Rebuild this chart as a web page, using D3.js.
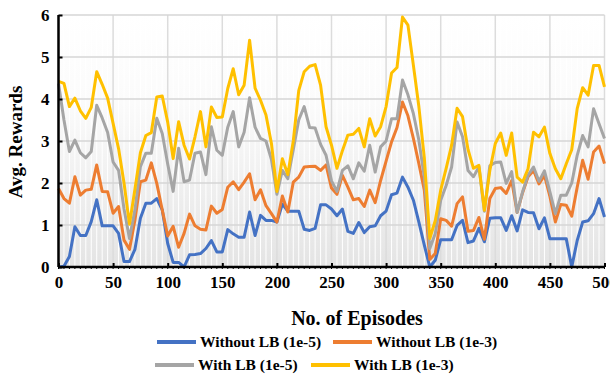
<!DOCTYPE html>
<html><head><meta charset="utf-8">
<script src="https://cdn.jsdelivr.net/npm/d3@7"></script>
<style>body{margin:0;background:#fff}svg{display:block}text{font-family:"Liberation Serif","Times New Roman",serif;font-weight:bold;fill:#000}</style>
</head><body><svg id="c" width="610" height="376"></svg>
<script>
const episodes = d3.range(0, 501, 5);
const seriesNames = ["Without LB (1e-5)", "Without LB (1e-3)", "With LB (1e-5)", "With LB (1e-3)"];
const seriesColors = ["#4472C4", "#ED7D31", "#A5A5A5", "#FFC000"];
const withoutLB_1e5 = [0.0,0.02,0.25,0.96,0.75,0.75,1.08,1.6,0.98,0.98,0.98,0.8,0.13,0.13,0.42,1.16,1.52,1.52,1.63,1.36,0.56,0.11,0.11,0.0,0.29,0.3,0.32,0.44,0.63,0.36,0.36,0.89,0.79,0.71,0.71,1.31,0.75,1.23,1.11,1.11,1.07,1.5,1.33,1.33,1.33,0.9,0.87,0.92,1.48,1.48,1.38,1.22,1.38,0.85,0.8,1.06,0.82,0.96,0.98,1.22,1.33,1.72,1.76,2.14,1.9,1.59,1.07,0.52,0.0,0.16,0.65,0.65,0.65,0.99,1.11,0.58,0.62,0.92,0.6,1.16,1.17,1.17,0.87,1.22,0.86,1.36,1.3,1.29,0.91,1.17,0.67,0.67,0.67,0.67,0.0,0.63,1.07,1.1,1.27,1.63,1.19];
const withoutLB_1e3 = [1.87,1.63,1.52,2.15,1.71,1.83,1.85,2.43,1.8,1.79,1.28,1.44,0.64,0.42,1.12,2.03,2.07,2.48,1.99,1.36,0.74,0.97,0.47,0.8,1.26,0.98,0.9,0.88,1.45,1.28,1.37,1.9,2.03,1.84,2.02,2.22,1.6,1.84,1.46,1.27,1.07,1.69,1.31,2.02,2.14,2.38,2.39,2.4,2.3,2.43,1.88,1.73,2.18,1.9,1.6,1.63,1.44,1.83,1.53,2.06,2.52,2.98,3.32,3.93,3.6,3.06,2.46,1.83,0.18,0.32,1.15,1.11,0.97,1.51,1.67,0.85,0.87,1.18,0.66,1.63,1.87,1.89,1.75,2.06,1.3,1.77,2.15,2.3,1.98,2.18,1.68,1.07,1.49,1.47,1.21,1.9,2.54,2.09,2.74,2.88,2.46];
const withLB_1e5 = [4.37,3.5,2.75,3.02,2.72,2.6,2.75,3.85,3.55,3.2,2.5,2.3,1.38,0.68,1.36,2.39,2.71,2.71,3.54,3.18,2.45,1.8,2.83,2.03,2.07,2.71,2.74,2.2,3.34,2.78,2.66,3.33,3.7,2.86,3.21,4.03,3.33,3.06,3.0,2.56,1.73,2.3,2.1,2.79,3.5,3.82,3.32,3.31,2.92,2.66,2.05,1.8,2.3,2.41,2.1,2.48,2.28,2.9,2.26,2.86,3.0,3.53,3.53,4.45,4.1,3.65,3.02,2.14,0.44,0.79,1.59,1.94,2.38,3.45,3.1,2.3,2.15,2.38,1.33,2.41,2.49,2.5,1.99,2.27,1.3,1.79,2.19,2.38,2.04,2.29,1.79,1.27,1.71,1.71,2.0,2.66,3.13,2.86,3.77,3.41,3.06];
const withLB_1e3 = [4.42,4.37,3.82,4.02,3.72,3.54,3.8,4.65,4.35,4.02,3.42,2.82,2.0,1.02,1.85,2.72,3.13,3.2,4.05,4.07,3.45,2.58,3.46,2.9,2.57,3.1,3.7,2.86,3.81,3.56,3.57,4.25,4.72,4.1,4.33,5.4,4.26,3.97,3.62,2.94,1.8,2.58,2.2,3.0,4.2,4.65,4.78,4.82,4.33,3.34,2.9,2.35,2.77,3.14,3.16,3.3,2.86,3.53,3.12,3.34,3.82,4.62,4.75,5.95,5.76,4.8,3.82,2.6,0.68,1.1,1.83,2.35,2.9,3.78,3.58,2.8,2.35,2.42,1.35,2.3,2.94,3.19,2.66,3.19,2.14,2.02,2.34,3.21,3.1,3.33,2.7,2.34,2.1,2.46,2.79,3.77,4.27,4.09,4.8,4.8,4.29];
const allSeries = [withoutLB_1e5, withoutLB_1e3, withLB_1e5, withLB_1e3];
const xTicks = [0,50,100,150,200,250,300,350,400,450,500];
const yTicks = [0,1,2,3,4,5,6];
const xTitle = "No. of Episodes";
const yTitle = "Avg. Rewards";

const svg = d3.select("#c");
const L = 58.5, R = 604.5, T = 15, B = 267;
const x = d3.scaleLinear().domain([0,500]).range([L,R]);
const y = d3.scaleLinear().domain([0,6]).range([B,T]);

const defs = svg.append("defs");
const g = defs.append("linearGradient").attr("id","bg").attr("x1",0).attr("x2",0).attr("y1",0).attr("y2",1);
g.append("stop").attr("offset","0").attr("stop-color","#ffffff");
g.append("stop").attr("offset","0.35").attr("stop-color","#fbfbfb");
g.append("stop").attr("offset","1").attr("stop-color","#e4e4e4");
svg.append("rect").attr("x",L).attr("y",T).attr("width",R-L).attr("height",B-T).attr("fill","url(#bg)");

// minor vertical gridlines
svg.append("g").selectAll("line").data(episodes.filter(d=>d%50!==0)).join("line")
  .attr("x1",d=>x(d)).attr("x2",d=>x(d)).attr("y1",T).attr("y2",B)
  .attr("stroke","#ffffff").attr("stroke-width",1);
// major gridlines
svg.append("g").selectAll("line").data(xTicks).join("line")
  .attr("x1",d=>x(d)).attr("x2",d=>x(d)).attr("y1",T).attr("y2",B)
  .attr("stroke","#dcdcdc").attr("stroke-width",1.5);
svg.append("g").selectAll("line").data(yTicks).join("line")
  .attr("x1",L).attr("x2",R).attr("y1",d=>y(d)).attr("y2",d=>y(d))
  .attr("stroke","#d6d6d6").attr("stroke-width",1.5);

// series lines
const line = d3.line().x((d,i)=>x(episodes[i])).y(d=>y(d));
allSeries.forEach((s,k)=>{
  svg.append("path").datum(s).attr("d",line).attr("fill","none")
    .attr("stroke",seriesColors[k]).attr("stroke-width",3).attr("stroke-linejoin","round");
});

// axes
const xAxis = svg.append("g").attr("transform",`translate(0,${B})`)
  .call(d3.axisBottom(x).tickValues(xTicks).tickSize(-4).tickPadding(9).tickFormat(d3.format("d")));
svg.append("g").selectAll("line").data(episodes).join("line")
  .attr("x1",d=>x(d)).attr("x2",d=>x(d)).attr("y1",B).attr("y2",B+2).attr("stroke","#000").attr("stroke-width",1);
const yAxis = svg.append("g").attr("transform",`translate(${L},0)`)
  .call(d3.axisLeft(y).tickValues(yTicks).tickSize(-4).tickPadding(9).tickFormat(d3.format("d")));
[xAxis,yAxis].forEach(a=>{
  a.select(".domain").attr("stroke","#000").attr("stroke-width",2.5);
  a.selectAll(".tick line").attr("stroke","#000").attr("stroke-width",2);
  a.selectAll(".tick text").style("font-family",'"Liberation Serif",serif').style("font-weight","bold").style("font-size","17px").attr("fill","#000");
});
xAxis.select(".domain").attr("d",`M${L},0H${R}`);
yAxis.select(".domain").attr("d",`M0,${T}V${B}`);

svg.append("text").attr("x",357).attr("y",325).attr("text-anchor","middle").style("font-size","20px").text(xTitle);
svg.append("text").attr("transform","translate(22,142) rotate(-90)").attr("text-anchor","middle").style("font-size","19px").text(yTitle);

// legend
const legendPos = [[157,342],[333,342],[155,365],[311,365]];
seriesNames.forEach((n,k)=>{
  const [lx,ly] = legendPos[k];
  svg.append("line").attr("x1",lx).attr("x2",lx+39).attr("y1",ly).attr("y2",ly).attr("stroke",seriesColors[k]).attr("stroke-width",4);
  svg.append("text").attr("x",lx+43).attr("y",ly+5).style("font-size","15.5px").text(n);
});
</script></body></html>
